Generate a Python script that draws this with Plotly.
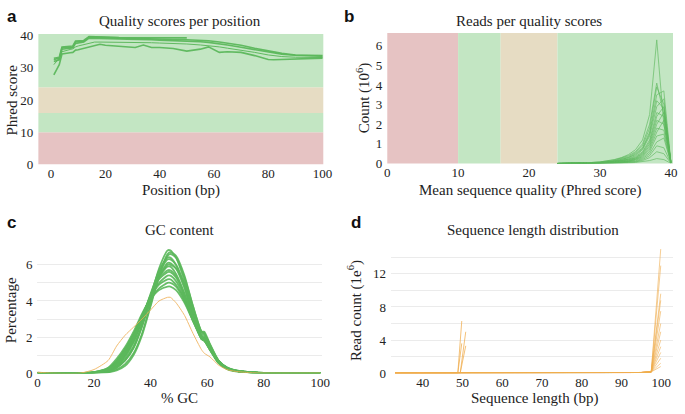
import plotly.graph_objects as go

W, H = 685, 414
SERIF = "Liberation Serif, Times New Roman, serif"
GREEN = "#5cb85c"
ORANGE = "#f0ad4e"
BAND_GREEN = "#c3e6c3"
BAND_BEIGE = "#e6dcc3"
BAND_RED = "#e6c3c3"

# ---------------- Panel a: quality per position ----------------
pos_x = [1, 2, 3, 4, 5, 6, 7, 8, 9, 10, 12, 14, 16, 18, 20, 22, 25, 28, 31, 34, 37, 40,
         45, 50, 55, 58, 62, 65, 70, 75, 80, 82, 85, 90, 95, 100]
qual_s1 = [32.5, 32.8, 32.8, 36.2, 36.3, 36.3, 36.4, 36.4, 38.0, 38.1, 38.2, 39.6, 39.6, 39.5, 39.4,
           39.4, 39.3, 39.2, 39.1, 39.1, 39.0, 38.9, 38.8, 38.7, 38.5, 38.4, 38.0, 37.7, 37.0,
           36.1, 35.2, 34.9, 34.5, 34.0, 33.9, 33.8]
qual_s2 = [32.0, 32.3, 32.5, 35.8, 36.0, 36.0, 36.1, 36.2, 37.6, 37.8, 38.0, 39.2, 39.2, 39.1, 39.1,
           39.0, 39.0, 38.9, 38.9, 38.8, 38.7, 38.6, 38.5, 38.3, 38.1, 37.9, 37.5, 37.1, 36.4,
           35.6, 34.8, 34.6, 34.2, 33.9, 33.7, 33.6]
qual_s3 = [33.0, 33.2, 33.3, 36.5, 36.6, 36.6, 36.7, 36.8, 38.3, 38.4, 38.5, 39.7, 39.7, 39.6, 39.5,
           39.5, 39.4, 39.4, 39.3, 39.3, 39.2, 39.2, 39.3, 39.3]
qual_s4 = [31.0, 32.0, 33.0, 35.0, 35.3, 35.5, 35.7, 35.9, 36.5, 36.8, 37.2, 37.8, 38.0, 38.0, 38.0,
           38.0, 38.0, 37.9, 37.9, 37.8, 37.8, 37.7, 37.6, 37.4, 37.1, 36.9, 36.5, 36.1, 35.5,
           34.8, 34.0, 33.8, 33.5, 33.3, 33.2, 33.2]
qual_s5 = [27.8, 29.5, 31.0, 34.3, 34.5, 34.6, 34.7, 34.8, 35.5, 35.6, 36.0, 36.6, 37.0, 37.3, 37.0,
           36.9, 36.8, 36.6, 36.3, 37.1, 36.3, 36.3, 36.0, 35.2, 35.8, 36.5, 34.8, 35.0, 34.8,
           33.8, 32.6, 32.5, 32.6, 32.8, 32.9, 33.0]
qual_series = [qual_s1, qual_s2, qual_s3, qual_s4, qual_s5]

# ---------------- Panel b: reads per mean quality ----------------
mq_x = [24, 26, 28, 30, 32, 33, 34, 35, 36, 37, 38, 39, 40]
mq_series = [
    [0, 0.01, 0.03, 0.08, 0.20, 0.30, 0.45, 0.70, 1.20, 2.50, 6.30, 2.00, 0.10],
    [0, 0.01, 0.03, 0.08, 0.18, 0.28, 0.40, 0.60, 1.00, 2.00, 4.10, 2.50, 0.10],
    [0, 0.01, 0.02, 0.06, 0.15, 0.25, 0.35, 0.55, 0.90, 1.80, 3.90, 3.00, 0.05],
    [0, 0.01, 0.02, 0.05, 0.12, 0.20, 0.30, 0.50, 0.80, 1.60, 3.50, 3.70, 0.05],
    [0, 0.00, 0.02, 0.05, 0.12, 0.20, 0.30, 0.45, 0.75, 1.50, 3.20, 2.80, 0.05],
    [0, 0.00, 0.01, 0.04, 0.10, 0.16, 0.25, 0.40, 0.70, 1.40, 2.90, 3.30, 0.05],
    [0, 0.00, 0.01, 0.04, 0.10, 0.15, 0.22, 0.35, 0.60, 1.20, 2.60, 2.40, 0.04],
    [0, 0.00, 0.01, 0.03, 0.08, 0.13, 0.20, 0.30, 0.55, 1.10, 2.40, 2.90, 0.04],
    [0, 0.00, 0.01, 0.03, 0.07, 0.12, 0.18, 0.28, 0.50, 1.00, 2.20, 2.00, 0.03],
    [0, 0.00, 0.01, 0.03, 0.06, 0.10, 0.15, 0.25, 0.45, 0.90, 2.00, 2.60, 0.03],
    [0, 0.00, 0.01, 0.02, 0.05, 0.09, 0.13, 0.22, 0.40, 0.80, 1.80, 1.70, 0.03],
    [0, 0.00, 0.00, 0.02, 0.05, 0.08, 0.12, 0.20, 0.35, 0.70, 1.60, 2.20, 0.03],
    [0, 0.00, 0.00, 0.02, 0.04, 0.07, 0.10, 0.17, 0.30, 0.60, 1.40, 1.50, 0.02],
    [0, 0.00, 0.00, 0.01, 0.03, 0.05, 0.08, 0.13, 0.25, 0.50, 1.10, 1.30, 0.02],
    [0, 0.00, 0.00, 0.01, 0.03, 0.04, 0.06, 0.10, 0.20, 0.40, 0.90, 0.80, 0.02],
    [0, 0.00, 0.00, 0.01, 0.02, 0.03, 0.05, 0.08, 0.15, 0.30, 0.60, 0.50, 0.01],
    [0, 0.00, 0.00, 0.00, 0.01, 0.02, 0.03, 0.05, 0.10, 0.15, 0.25, 0.20, 0.01],
]

# ---------------- Panel c: GC content ----------------
gc_x = [0, 5, 15, 20, 25, 28, 31, 34, 37, 40, 43, 46, 47, 49, 52, 55, 58, 59, 61, 64, 67, 70, 75, 80, 100]
gc_green = [
    [0.02, 0, 0, 0.02, 0.10, 0.30, 0.70, 1.40, 2.60, 4.20, 5.80, 6.80, 6.80, 6.40, 5.10, 3.40, 2.10, 2.00, 1.40, 0.60, 0.25, 0.12, 0.04, 0.01, 0],
    [0, 0, 0, 0.01, 0.06, 0.20, 0.50, 1.10, 2.20, 3.80, 5.40, 6.50, 6.60, 6.40, 5.30, 3.70, 2.30, 2.20, 1.60, 0.70, 0.30, 0.14, 0.05, 0.01, 0],
    [0.03, 0, 0, 0.03, 0.15, 0.40, 0.90, 1.70, 2.90, 4.30, 5.70, 6.40, 6.40, 6.00, 4.80, 3.20, 2.00, 1.90, 1.30, 0.55, 0.22, 0.10, 0.04, 0.01, 0],
    [0, 0, 0, 0.02, 0.12, 0.35, 0.80, 1.50, 2.70, 4.10, 5.40, 6.10, 6.10, 5.80, 4.70, 3.20, 2.00, 1.90, 1.40, 0.60, 0.25, 0.12, 0.04, 0.01, 0],
    [0, 0, 0, 0.03, 0.18, 0.50, 1.00, 1.80, 3.00, 4.30, 5.40, 5.90, 5.90, 5.50, 4.40, 3.00, 1.90, 1.80, 1.30, 0.60, 0.25, 0.12, 0.05, 0.01, 0],
    [0, 0, 0, 0.04, 0.20, 0.55, 1.10, 1.90, 3.10, 4.30, 5.20, 5.60, 5.60, 5.30, 4.30, 3.00, 1.90, 1.80, 1.30, 0.60, 0.26, 0.13, 0.05, 0.01, 0],
    [0, 0, 0, 0.04, 0.22, 0.60, 1.20, 2.00, 3.10, 4.20, 5.00, 5.40, 5.40, 5.10, 4.20, 3.00, 2.00, 1.90, 1.40, 0.65, 0.28, 0.14, 0.05, 0.01, 0],
    [0.02, 0, 0, 0.05, 0.25, 0.65, 1.30, 2.10, 3.20, 4.20, 4.90, 5.20, 5.20, 4.90, 4.10, 2.90, 1.90, 1.80, 1.30, 0.65, 0.30, 0.15, 0.06, 0.02, 0],
    [0, 0, 0, 0.05, 0.28, 0.70, 1.35, 2.20, 3.20, 4.10, 4.70, 5.00, 5.00, 4.80, 4.00, 2.90, 2.00, 1.90, 1.40, 0.70, 0.30, 0.15, 0.06, 0.02, 0],
    [0, 0, 0, 0.06, 0.30, 0.80, 1.45, 2.30, 3.30, 4.10, 4.60, 4.80, 4.80, 4.60, 3.90, 2.90, 2.00, 1.90, 1.40, 0.70, 0.32, 0.16, 0.06, 0.02, 0],
    [0, 0, 0, 0.01, 0.05, 0.15, 0.40, 1.00, 2.10, 3.70, 5.40, 6.60, 6.70, 6.50, 5.40, 3.70, 2.30, 2.20, 1.50, 0.65, 0.26, 0.12, 0.04, 0.01, 0],
    [0, 0, 0, 0.02, 0.10, 0.30, 0.70, 1.40, 2.60, 4.00, 5.30, 6.00, 6.00, 5.80, 4.90, 3.50, 2.30, 2.30, 1.60, 0.70, 0.30, 0.13, 0.05, 0.01, 0],
    [0, 0, 0, 0.02, 0.14, 0.45, 1.00, 1.80, 3.00, 4.40, 5.60, 6.30, 6.30, 6.00, 4.90, 3.40, 2.20, 2.10, 1.50, 0.65, 0.27, 0.13, 0.05, 0.01, 0],
    [0, 0, 0, 0.03, 0.20, 0.50, 1.10, 1.90, 3.10, 4.30, 5.30, 5.70, 5.70, 5.40, 4.40, 3.10, 2.00, 1.90, 1.40, 0.62, 0.27, 0.13, 0.05, 0.01, 0],
]
gc_orange = [0.05, 0, 0, 0.20, 0.70, 1.50, 2.10, 2.55, 3.00, 3.50, 4.00, 4.20, 4.20, 3.90, 3.20, 2.20, 1.30, 1.10, 0.90, 0.45, 0.20, 0.10, 0.03, 0, 0]

# ---------------- Panel d: sequence length distribution ----------------
len_x_50 = [33, 40, 45, 48, 48.8, 49.8]
len_x_51 = [33, 40, 45, 48, 49, 49.4, 50.8]
len_x_100 = [33, 50, 80, 90, 95, 97.5, 99.9]
len_50_series = [
    [0, 0.02, 0.05, 0.08, 0.00, 6.3],
    [0, 0.01, 0.03, 0.05, 0.00, 3.6],
]
len_51_series = [
    [0, 0.02, 0.04, 0.06, 0.05, 0.00, 5.0],
    [0, 0.01, 0.03, 0.04, 0.03, 0.00, 3.3],
]
len_100_peaks = [15.0, 13.0, 9.6, 8.8, 7.5, 6.0, 5.0, 4.0, 3.2, 2.5, 1.8, 1.2, 0.8]
len_100_base = [0, 0, 0, 0.03, 0.08, 0.15]

fig = go.Figure()

# panel a
for i, s in enumerate(qual_series):
    fig.add_trace(go.Scatter(x=pos_x[:len(s)], y=s, mode="lines", xaxis="x", yaxis="y",
                             line=dict(color=GREEN, width=1.6 if i != 3 else 1.0),
                             opacity=0.95, showlegend=False, hoverinfo="skip"))
# panel b
for s in mq_series:
    fig.add_trace(go.Scatter(x=mq_x, y=s, mode="lines", xaxis="x2", yaxis="y2",
                             line=dict(color=GREEN, width=0.8), opacity=0.8,
                             showlegend=False, hoverinfo="skip"))
# panel c
for s in gc_green:
    fig.add_trace(go.Scatter(x=gc_x, y=s, mode="lines", xaxis="x3", yaxis="y3",
                             line=dict(color=GREEN, width=1.8, shape="spline", smoothing=0.6),
                             opacity=0.9, showlegend=False, hoverinfo="skip"))
fig.add_trace(go.Scatter(x=gc_x, y=gc_orange, mode="lines", xaxis="x3", yaxis="y3",
                         line=dict(color=ORANGE, width=1, shape="spline", smoothing=0.6),
                         opacity=0.8, showlegend=False, hoverinfo="skip"))
# panel d
for s in len_50_series:
    fig.add_trace(go.Scatter(x=len_x_50, y=s, mode="lines", xaxis="x4", yaxis="y4",
                             line=dict(color=ORANGE, width=1), opacity=0.75,
                             showlegend=False, hoverinfo="skip"))
for s in len_51_series:
    fig.add_trace(go.Scatter(x=len_x_51, y=s, mode="lines", xaxis="x4", yaxis="y4",
                             line=dict(color=ORANGE, width=1), opacity=0.75,
                             showlegend=False, hoverinfo="skip"))
for p in len_100_peaks:
    fig.add_trace(go.Scatter(x=len_x_100, y=len_100_base + [p], mode="lines", xaxis="x4", yaxis="y4",
                             line=dict(color=ORANGE, width=1), opacity=0.6,
                             showlegend=False, hoverinfo="skip"))


def px_x(p):
    return p / W


def px_y(p):
    return 1 - p / H


tickfont = dict(family=SERIF, size=13, color="#222")
common_x = dict(showgrid=False, zeroline=False, showline=False, ticks="", tickfont=tickfont, fixedrange=True)
common_y = dict(showgrid=False, zeroline=False, showline=False, ticks="", tickfont=tickfont, fixedrange=True)

fig.update_layout(
    width=W, height=H, margin=dict(l=0, r=0, t=0, b=0),
    paper_bgcolor="white", plot_bgcolor="rgba(0,0,0,0)",
    font=dict(family=SERIF),
    xaxis=dict(common_x, domain=[px_x(36), px_x(326)], range=[-4.7, 100.3], tickvals=[0, 20, 40, 60, 80, 100],
               anchor="y"),
    yaxis=dict(common_y, domain=[px_y(164), px_y(29)], range=[0, 40.5], tickvals=[0, 10, 20, 30, 40],
               anchor="x", ticklabelstandoff=4),
    xaxis2=dict(common_x, domain=[px_x(391), px_x(682)], range=[0, 40.3], tickvals=[0, 10, 20, 30, 40],
                anchor="y2"),
    yaxis2=dict(common_y, domain=[px_y(163), px_y(28)], range=[0, 6.65], tickvals=[0, 1, 2, 3, 4, 5, 6],
                anchor="x2", ticklabelstandoff=4),
    xaxis3=dict(common_x, domain=[px_x(35), px_x(325)], range=[0, 100.7], tickvals=[0, 20, 40, 60, 80, 100],
                anchor="y3"),
    yaxis3=dict(common_y, domain=[px_y(380), px_y(248.3)], range=[0, 7.05], tickvals=[0, 2, 4, 6],
                showgrid=True, gridcolor="#ececec", gridwidth=1,
                minor=dict(dtick=1, tick0=0, showgrid=True, gridcolor="#ececec", gridwidth=1),
                anchor="x3", ticklabelstandoff=4),
    xaxis4=dict(common_x, domain=[px_x(395), px_x(682)], range=[32, 103], tickvals=[40, 50, 60, 70, 80, 90, 100],
                anchor="y4"),
    yaxis4=dict(common_y, domain=[px_y(380), px_y(249)], range=[0, 15.3], tickvals=[0, 4, 8, 12],
                showgrid=True, gridcolor="#ececec", gridwidth=1,
                minor=dict(dtick=2, tick0=0, showgrid=True, gridcolor="#ececec", gridwidth=1),
                anchor="x4", ticklabelstandoff=4),
)

shapes = []
# panel a horizontal bands
for y0, y1, c in [(0, 10, BAND_RED), (10, 16, BAND_GREEN), (16, 24, BAND_BEIGE), (24, 40.5, BAND_GREEN)]:
    shapes.append(dict(type="rect", xref="x domain", yref="y", x0=0, x1=1, y0=y0, y1=y1,
                       fillcolor=c, line=dict(width=0), layer="below"))
# panel b vertical bands
for x0, x1, c in [(0, 10, BAND_RED), (10, 16, BAND_GREEN), (16, 24, BAND_BEIGE), (24, 40.3, BAND_GREEN)]:
    shapes.append(dict(type="rect", xref="x2", yref="y2 domain", x0=x0, x1=x1, y0=0, y1=1,
                       fillcolor=c, line=dict(width=0), layer="below"))
fig.update_layout(shapes=shapes)

title_font = dict(family=SERIF, size=15, color="#222")
axis_font = dict(family=SERIF, size=15, color="#222")
letter_font = dict(family="Liberation Sans, Arial, sans-serif", size=17, color="#111")

ann = []


def add(text, x, y, font, angle=0, xanchor="center", yanchor="middle"):
    ann.append(dict(text=text, x=px_x(x), y=px_y(y), xref="paper", yref="paper", showarrow=False,
                    font=font, textangle=angle, xanchor=xanchor, yanchor=yanchor))


add("<b>a</b>", 2, 11, letter_font, xanchor="left")
add("<b>b</b>", 345, 11, letter_font, xanchor="left")
add("<b>c</b>", 2, 224, letter_font, xanchor="left")
add("<b>d</b>", 352, 224, letter_font, xanchor="left")

add("Quality scores per position", 180, 16, title_font)
add("Reads per quality scores", 535, 16, title_font)
add("GC content", 180, 232, title_font)
add("Sequence length distribution", 539, 232, title_font)

add("Position (bp)", 181, 191, axis_font)
add("Mean sequence quality (Phred score)", 536, 191, axis_font)
add("% GC", 180, 406, axis_font)
add("Sequence length (bp)", 541, 406, axis_font)

add("Phred score", 9, 97, axis_font, angle=-90)
add("Count (10<sup>6</sup>)", 367, 95, axis_font, angle=-90)
add("Percentage", 9, 315, axis_font, angle=-90)
add("Read count (1e<sup>6</sup>)", 358, 315, axis_font, angle=-90)

fig.update_layout(annotations=ann)

fig.write_html("out.html", config={"displayModeBar": False},
               post_script="document.body.style.margin='0';document.body.style.overflow='hidden';")
